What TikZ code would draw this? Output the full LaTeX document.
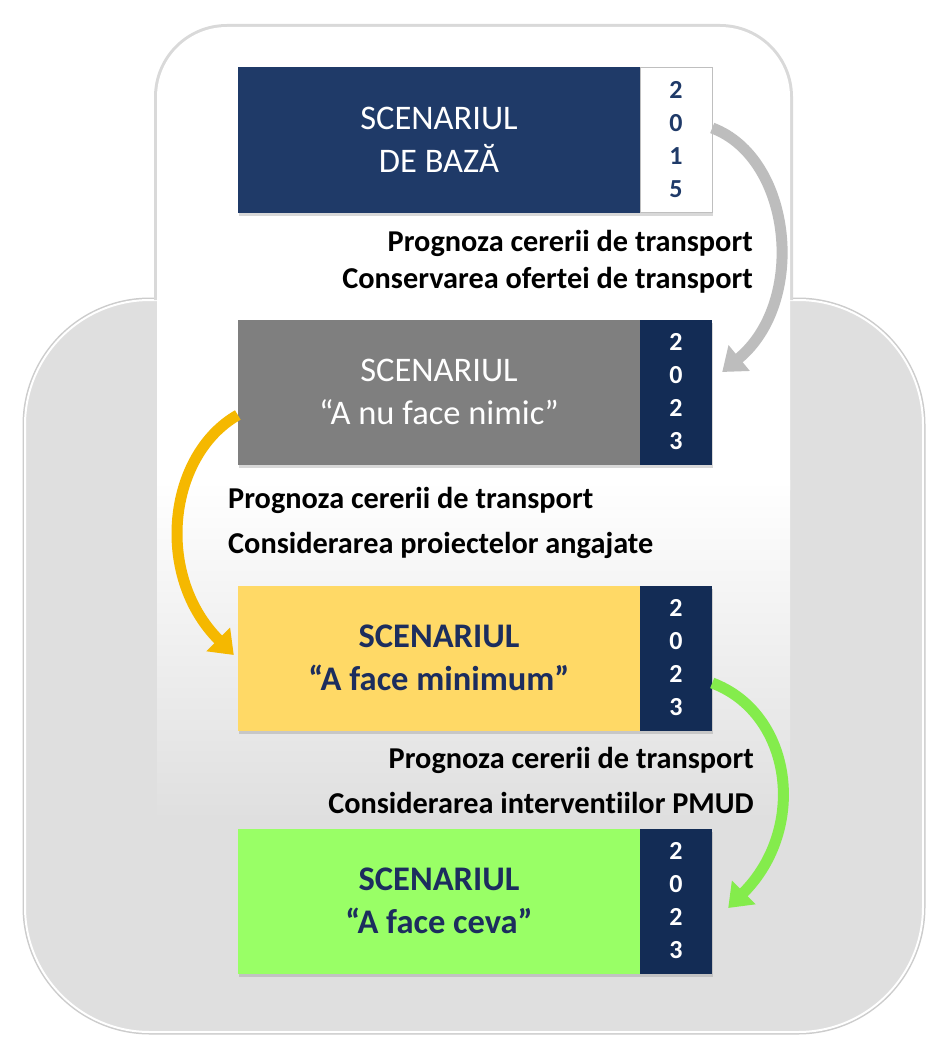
\documentclass[tikz,border=0pt]{standalone}
\usepackage{fontspec}
\setmainfont[Ligatures=NoCommon]{Carlito}
\usetikzlibrary{arrows.meta,shadows}
\definecolor{scnavy}{HTML}{1F3A68}
\definecolor{scdark}{HTML}{132C55}
\definecolor{scgray}{HTML}{7F7F7F}
\definecolor{scyellow}{HTML}{FFD966}
\definecolor{scgreen}{HTML}{99FF66}
\definecolor{sctext}{HTML}{1C2D5E}
\definecolor{scbg}{HTML}{DFDFDF}
\definecolor{arrgray}{HTML}{BDBDBD}
\definecolor{arryellow}{HTML}{F5B800}
\definecolor{arrgreen}{HTML}{84EC4C}

\begin{document}
\begin{tikzpicture}[x=1pt,y=-1pt,
  scbox/.style={minimum width=402pt,minimum height=145pt,inner sep=0pt,align=center,
    font=\fontsize{34.5}{43}\selectfont,
    drop shadow={shadow xshift=1pt,shadow yshift=-3pt,opacity=.3}},
  yearbox/.style={minimum width=72pt,minimum height=145pt,inner sep=0pt,align=center,
    font=\fontsize{26}{33}\selectfont\bfseries,fill=scdark,text=white,
    drop shadow={shadow xshift=1pt,shadow yshift=-3pt,opacity=.3}},
  steplabel/.style={inner sep=0pt,font=\fontsize{30.3}{37}\selectfont\bfseries},
  flow/.style={line width=11pt,-{Triangle[width=32pt,length=22pt]}}]
  \useasboundingbox (0,0) rectangle (926,1038);
  \fill[white] (0,0) rectangle (926,1038);
  % background panels
  \draw[gray!40,line width=5pt,rounded corners=125pt] (25,300) rectangle (923,1032);
  \fill[scbg,draw=white,line width=2pt,rounded corners=125pt] (25,300) rectangle (923,1032);
  \draw[gray!30,line width=6pt,rounded corners=70pt] (157,300) -- (157,27) -- (790,27) -- (790,300);
  \fill[white,rounded corners=70pt] (157,27) rectangle (790,560);
  \shade[top color=white,bottom color=scbg] (157,480) rectangle (790,820);

  % scenarios
  \node[scbox,fill=scnavy,text=white] (scn1) at (439,140) {SCENARIUL\\DE BAZĂ};
  \node[yearbox,fill=white,text=scnavy,draw=gray!50] (yr1) at (676,140) {2\\0\\1\\5};
  \node[scbox,fill=scgray,text=white] (scn2) at (439,392) {SCENARIUL\\“A nu face nimic”};
  \node[yearbox] (yr2) at (676,392) {2\\0\\2\\3};
  \node[scbox,fill=scyellow,text=sctext,font=\fontsize{34.5}{43}\selectfont\bfseries] (scn3) at (439,658) {SCENARIUL\\“A face minimum”};
  \node[yearbox] (yr3) at (676,658) {2\\0\\2\\3};
  \node[scbox,fill=scgreen,text=sctext,font=\fontsize{34.5}{43}\selectfont\bfseries] (scn4) at (439,901) {SCENARIUL\\“A face ceva”};
  \node[yearbox] (yr4) at (676,901) {2\\0\\2\\3};

  % steps
  \node[steplabel,anchor=base east] (prog1) at (753,251) {Prognoza cererii de transport};
  \node[steplabel,anchor=base east] (cons1) at (753,288) {Conservarea ofertei de transport};
  \node[steplabel,anchor=base west] (prog2) at (228,508) {Prognoza cererii de transport};
  \node[steplabel,anchor=base west] (cons2) at (228,553) {Considerarea proiectelor angajate};
  \node[steplabel,anchor=base east] (prog3) at (754,768) {Prognoza cererii de transport};
  \node[steplabel,anchor=base east] (cons3) at (754,813) {Considerarea interventiilor PMUD};

  % arrows
  \draw[flow,arrgray] ([yshift=12pt]yr1.east) .. controls +(80,30) and +(85,-70) .. ([xshift=10pt,yshift=20pt]yr2.east);
  \draw[flow,arryellow] ([yshift=-23pt]scn2.west) .. controls +(-70,40) and +(-80,-80) .. ([xshift=-4pt,yshift=3pt]scn3.west);
  \draw[flow,arrgreen] ([yshift=-25pt]yr3.east) .. controls +(80,30) and +(80,-80) .. ([xshift=16pt,yshift=-7pt]yr4.east);
\end{tikzpicture}
\end{document}
